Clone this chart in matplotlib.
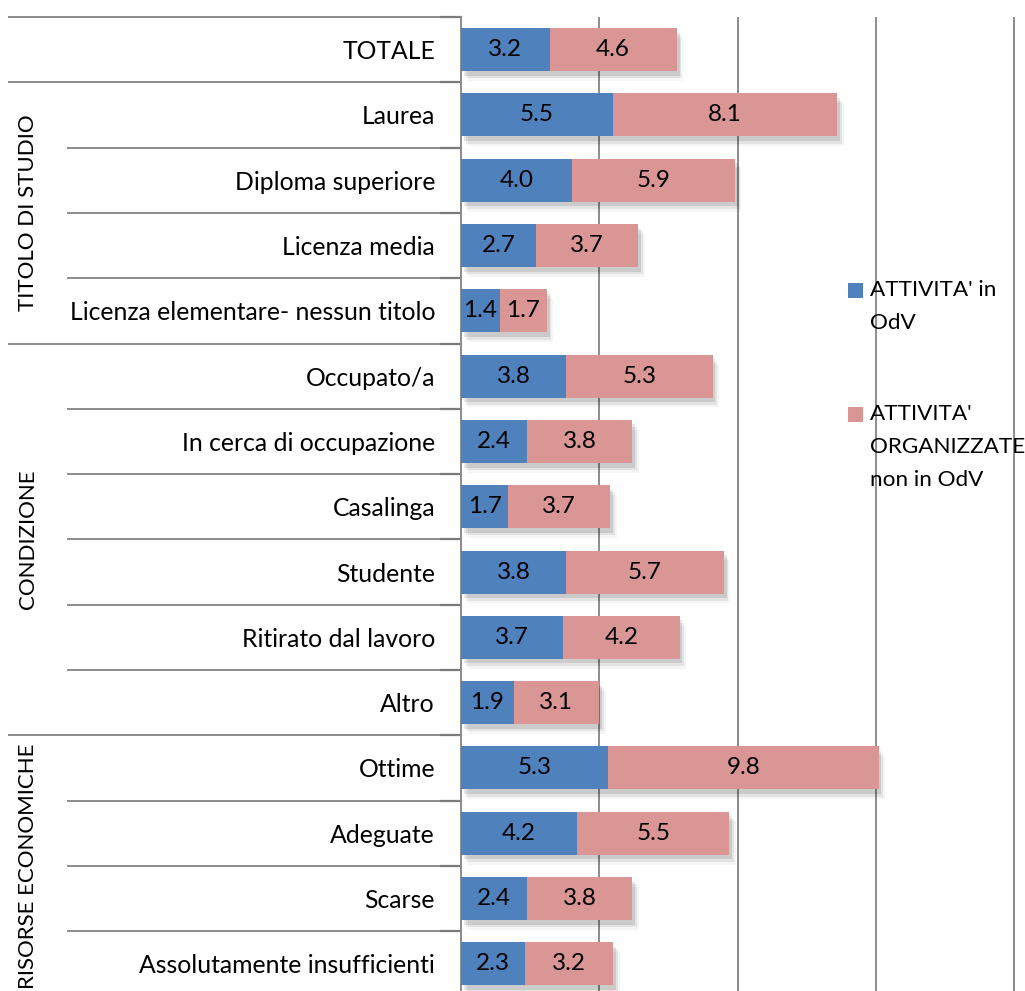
import matplotlib.pyplot as plt
from matplotlib.patches import Rectangle

plt.rcParams['font.family'] = ['Lato', 'DejaVu Sans']

categories = ['TOTALE', 'Laurea', 'Diploma superiore', 'Licenza media',
              'Licenza elementare- nessun titolo', 'Occupato/a',
              'In cerca di occupazione', 'Casalinga', 'Studente',
              'Ritirato dal lavoro', 'Altro', 'Ottime', 'Adeguate', 'Scarse',
              'Assolutamente insufficienti']
odv = [3.2, 5.5, 4.0, 2.7, 1.4, 3.8, 2.4, 1.7, 3.8, 3.7, 1.9, 5.3, 4.2, 2.4, 2.3]
non_odv = [4.6, 8.1, 5.9, 3.7, 1.7, 5.3, 3.8, 3.7, 5.7, 4.2, 3.1, 9.8, 5.5, 3.8, 3.2]
series_names = ["ATTIVITA' in\nOdV", "ATTIVITA'\nORGANIZZATE\nnon in OdV"]
groups = [('TITOLO DI STUDIO', 1, 4), ('CONDIZIONE', 5, 10), ('RISORSE ECONOMICHE', 11, 14)]

BLUE = '#4F81BD'
PINK = '#D99694'
GRID = '#8C8C8C'

W, H = 1025, 991
fig = plt.figure(figsize=(W / 100, H / 100), dpi=100)
top_px, row_px = 17, 65.3
bottom_px = top_px + len(categories) * row_px
ax = fig.add_axes([461 / W, 1 - bottom_px / H, 1 - 461 / W, len(categories) * row_px / H])

y = list(range(len(categories)))
bh = 0.66

# soft drop shadow behind each stacked bar
totals = [a + b for a, b in zip(odv, non_odv)]
for i, tot in enumerate(totals):
    for dx, dy, al in [(0.10, 0.07, 0.10), (0.17, 0.11, 0.07), (0.24, 0.15, 0.04)]:
        ax.add_patch(Rectangle((dx, i - bh / 2 + dy), tot, bh, facecolor='black',
                               alpha=al, linewidth=0, zorder=1))

b1 = ax.barh(y, odv, height=bh, color=BLUE, zorder=3)
b2 = ax.barh(y, non_odv, left=odv, height=bh, color=PINK, zorder=3)
ax.bar_label(b1, labels=[f'{v:.1f}' for v in odv], label_type='center', fontsize=17.5, zorder=4)
ax.bar_label(b2, labels=[f'{v:.1f}' for v in non_odv], label_type='center', fontsize=17.5, zorder=4)

ax.set_xlim(0, (W - 461) / 27.66)
ax.set_ylim(len(categories) - 0.5, -0.5)
ax.set_xticks([5, 10, 15, 20])
ax.tick_params(axis='x', length=0, labelbottom=False)
ax.grid(axis='x', color=GRID, linewidth=1.4, zorder=0)
ax.set_axisbelow(True)
for s in ['top', 'right', 'bottom']:
    ax.spines[s].set_visible(False)
ax.spines['left'].set_color(GRID)
ax.spines['left'].set_linewidth(1.4)

ax.set_yticks(y)
ax.set_yticklabels(categories, fontsize=17.8)
ax.tick_params(axis='y', length=0, pad=18.7)

# separator lines of the category table on the left
tr = ax.get_yaxis_transform()
ax_w = W - 461
long_x = (9 - 461) / ax_w
short_x = (68 - 461) / ax_w
major = {-0.5, 0.5, 4.5, 10.5, 14.5}
for k in range(len(categories) + 1):
    yy = k - 0.5
    x0 = long_x if yy in major else short_x
    ax.plot([x0, 0], [yy, yy], transform=tr, color=GRID, linewidth=1.4, clip_on=False)
    ax.plot([-20 / ax_w, 0], [yy, yy], transform=tr, color='#7A7A7A', linewidth=1.6, clip_on=False)

for name, a, b in groups:
    ax.text((28 - 461) / ax_w, (a + b) / 2, name, transform=tr, rotation=90,
            ha='center', va='center', fontsize=16, clip_on=False)

# legend: square key next to the first line of each label
for (sq_top, txt_top), color, label in zip([(283, 280), (407, 404)], [BLUE, PINK], series_names):
    fig.patches.append(Rectangle((848 / W, 1 - (sq_top + 15) / H), 15 / W, 15 / H,
                                 transform=fig.transFigure, facecolor=color, linewidth=0))
    fig.text(870 / W, 1 - txt_top / H, label, fontsize=16.2, ha='left', va='top',
             linespacing=1.8)

fig.savefig('out.png', dpi=100)
